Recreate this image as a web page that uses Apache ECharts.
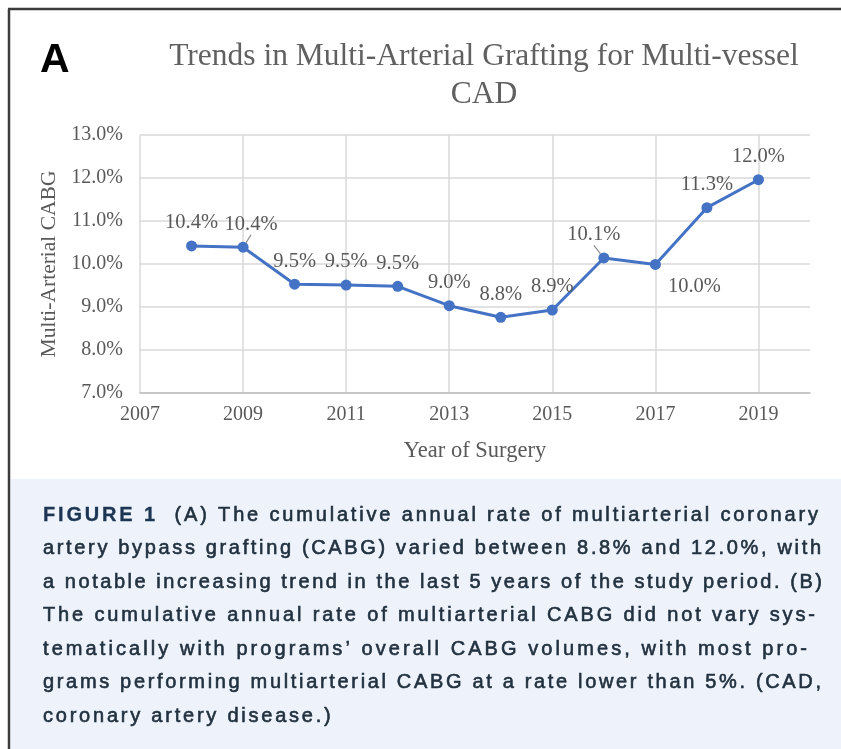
<!DOCTYPE html>
<html>
<head>
<meta charset="utf-8">
<script src="https://cdn.jsdelivr.net/npm/echarts@6/dist/echarts.min.js"></script>
<style>
html, body { margin: 0; padding: 0; background: #fff; }
#main { width: 841px; height: 749px; }
</style>
</head>
<body>
<div id="main"></div>
<script>
// data
var years = [2008, 2009, 2010, 2011, 2012, 2013, 2014, 2015, 2016, 2017, 2018, 2019];
var rates = [10.42, 10.39, 9.53, 9.51, 9.48, 9.03, 8.76, 8.93, 10.14, 9.99, 11.31, 11.96];

var titleText = 'Trends in Multi-Arterial Grafting for Multi-vessel\nCAD';
var panelLetter = 'A';
var xName = 'Year of Surgery';
var yName = 'Multi-Arterial CABG';

var captionLead = 'FIGURE 1';
var captionLines = [
	'(A) The cumulative annual rate of multiarterial coronary',
	'artery bypass grafting (CABG) varied between 8.8% and 12.0%, with',
	'a notable increasing trend in the last 5 years of the study period. (B)',
	'The cumulative annual rate of multiarterial CABG did not vary sys-',
	'tematically with programs\u2019 overall CABG volumes, with most pro-',
	'grams performing multiarterial CABG at a rate lower than 5%. (CAD,',
	'coronary artery disease.)'
];
var captionRight = [818, 821, 822, 815, 807, 821, null];

var blue = '#4472c4';
var grey = '#595959';
var serif = 'Liberation Serif';

// caption: glyphs placed one by one so the lines can be tracked out and justified
var capFont = 'Liberation Sans';
var capSize = 20;
var capLeft = 43;
var capTop = 515;
var capStep = 33.5;
var ctx = document.createElement('canvas').getContext('2d');
function measure(ch, bold) {
	ctx.font = (bold ? 'bold ' : '') + capSize + 'px "' + capFont + '"';
	return ctx.measureText(ch).width;
}

var graphics = [];
// frame
graphics.push({ type: 'rect', shape: { x: 11, y: 479, width: 830, height: 270 }, style: { fill: '#eef3fb' }, silent: true });
graphics.push({ type: 'line', shape: { x1: 8, y1: 9, x2: 841, y2: 9 }, style: { stroke: '#3c3c3c', lineWidth: 2.5 }, silent: true });
graphics.push({ type: 'line', shape: { x1: 9, y1: 9, x2: 9, y2: 749 }, style: { stroke: '#3c3c3c', lineWidth: 2.5 }, silent: true });
// panel letter and title
graphics.push({ type: 'text', x: 40, y: 61, style: { text: panelLetter, fontFamily: 'Liberation Sans', fontWeight: 'bold', fontSize: 41, fill: '#000', verticalAlign: 'middle' } });
graphics.push({ type: 'text', x: 484, y: 38, style: { text: titleText, fontFamily: serif, fontSize: 31.5, lineHeight: 38, fill: '#606060', align: 'center', verticalAlign: 'top' } });

var lines = captionLines.map(function(line, i) {
	var chars = [];
	if (i === 0) {
		captionLead.split('').forEach(function(c) { chars.push({ c: c, bold: true }); });
		chars.push({ c: ' ', bold: false });
		chars.push({ c: ' ', bold: false });
	}
	line.split('').forEach(function(c) { chars.push({ c: c, bold: false }); });
	var total = 0;
	chars.forEach(function(ch) { ch.w = measure(ch.c, ch.bold); total += ch.w; });
	return { chars: chars, total: total };
});
var trackSum = 0, trackN = 0;
lines.forEach(function(l, i) {
	if (captionRight[i] !== null) {
		l.track = (captionRight[i] - capLeft - l.total) / (l.chars.length - 1);
		trackSum += l.track; trackN++;
	}
});
lines.forEach(function(l, i) {
	if (captionRight[i] === null) l.track = trackSum / trackN;
	var x = capLeft, y = capTop + i * capStep;
	l.chars.forEach(function(ch) {
		if (ch.c !== ' ') {
			var col = ch.bold ? '#1b3552' : '#22313f';
			graphics.push({
				type: 'text', x: x, y: y, silent: true,
				style: { text: ch.c, fontFamily: capFont, fontSize: capSize, fontWeight: ch.bold ? 'bold' : 'normal',
					fill: col, stroke: col, lineWidth: ch.bold ? 0.3 : 0.6, verticalAlign: 'middle' }
			});
		}
		x += ch.w + l.track;
	});
});

var guided = [1, 8];
var moved = { 1: { dx: 8 }, 8: { dx: -10 }, 9: { dx: 39, dy: 45 } };

var myChart = echarts.init(document.getElementById('main'));
myChart.setOption({
	animation: false,
	backgroundColor: '#fff',
	graphic: graphics,
	grid: { left: 140, right: 31, top: 135, bottom: 356 },
	xAxis: {
		type: 'value', min: 2007, max: 2020, interval: 2,
		axisLine: { show: true, lineStyle: { color: '#bfbfbf', width: 1.5 } },
		axisTick: { show: false },
		axisLabel: { color: grey, fontFamily: serif, fontSize: 20, margin: 12, showMaxLabel: false,
			formatter: function(v) { return String(v); } },
		splitLine: { show: true, showMaxLine: false, lineStyle: { color: '#d9d9d9', width: 1.5 } },
		name: xName, nameLocation: 'middle', nameGap: 47,
		nameTextStyle: { color: grey, fontFamily: serif, fontSize: 22.5 }
	},
	yAxis: {
		type: 'value', min: 7, max: 13, interval: 1,
		axisLine: { show: false },
		axisTick: { show: false },
		axisLabel: { color: grey, fontFamily: serif, fontSize: 20, margin: 17,
			formatter: function(v) { return v.toFixed(1) + '%'; } },
		splitLine: { show: true, lineStyle: { color: '#d9d9d9', width: 1.5 } },
		name: yName, nameLocation: 'middle', nameRotate: 90, nameGap: 80,
		nameTextStyle: { color: grey, fontFamily: serif, fontSize: 21.5 }
	},
	series: [{
		type: 'line',
		data: years.map(function(y, i) {
			var item = { value: [y, rates[i]] };
			if (guided.indexOf(i) >= 0) item.labelLine = { show: true, lineStyle: { color: '#8c8c8c', width: 1.2 } };
			return item;
		}),
		symbol: 'circle', symbolSize: 11,
		lineStyle: { color: blue, width: 3 },
		itemStyle: { color: blue },
		label: {
			show: true, position: 'top', distance: 7,
			color: grey, fontFamily: serif, fontSize: 20.5,
			formatter: function(p) { return p.value[1].toFixed(1) + '%'; }
		},
		labelLine: { show: false },
		labelLayout: function(p) {
			return moved[p.dataIndex] || {};
		}
	}]
});
</script>
</body>
</html>
